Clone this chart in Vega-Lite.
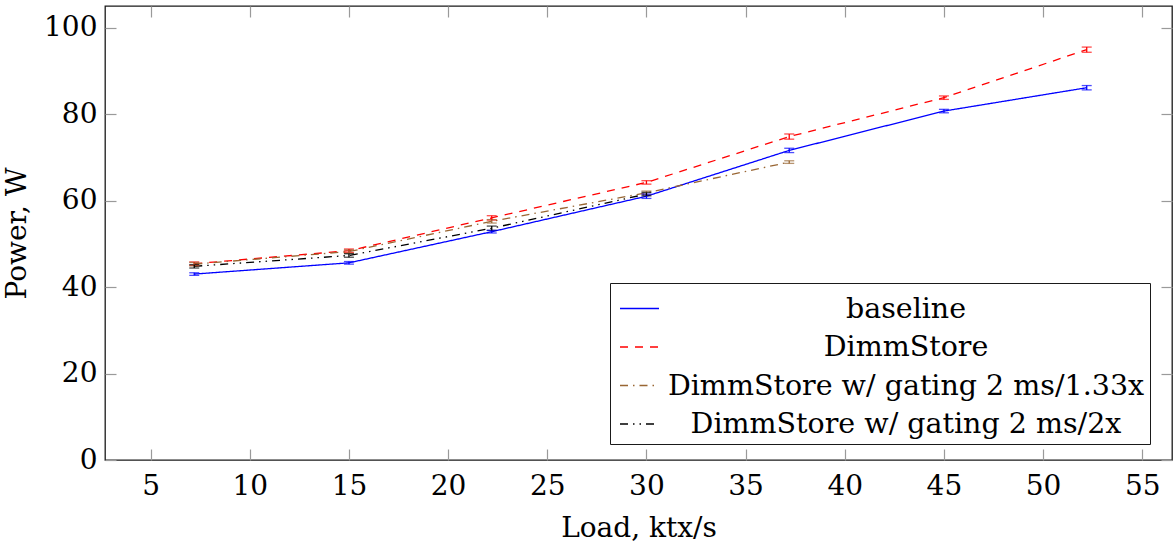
{
  "$schema": "https://vega.github.io/schema/vega-lite/v6.json",
  "width": 1067,
  "height": 454,
  "padding": {"left": 3, "top": 5, "right": 0, "bottom": 0},
  "config": {
    "view": {"stroke": "#1a1a1a", "strokeWidth": 1.3},
    "font": "DejaVu Serif",
    "axis": {
      "labelFont": "DejaVu Serif",
      "titleFont": "DejaVu Serif",
      "labelFontSize": 28,
      "titleFontSize": 28,
      "titleFontWeight": "normal",
      "labelColor": "black",
      "titleColor": "black",
      "tickColor": "#9a9a9a",
      "tickSize": -11,
      "tickWidth": 1.2,
      "domain": false,
      "grid": false
    }
  },
  "data": {
    "values": [
      {"series": "baseline", "load": 7.2, "power": 43.0, "lo": 42.7, "hi": 43.3},
      {"series": "baseline", "load": 15.0, "power": 45.6, "lo": 45.3, "hi": 45.9},
      {"series": "baseline", "load": 22.2, "power": 52.8, "lo": 52.5, "hi": 53.1},
      {"series": "baseline", "load": 30.0, "power": 61.0, "lo": 60.5, "hi": 61.5},
      {"series": "baseline", "load": 37.2, "power": 71.6, "lo": 71.1, "hi": 72.1},
      {"series": "baseline", "load": 45.0, "power": 80.7, "lo": 80.3, "hi": 81.1},
      {"series": "baseline", "load": 52.2, "power": 86.1, "lo": 85.6, "hi": 86.6},
      {"series": "DimmStore", "load": 7.2, "power": 45.4, "lo": 45.0, "hi": 45.8},
      {"series": "DimmStore", "load": 15.0, "power": 48.4, "lo": 48.0, "hi": 48.8},
      {"series": "DimmStore", "load": 22.2, "power": 56.0, "lo": 55.5, "hi": 56.5},
      {"series": "DimmStore", "load": 30.0, "power": 64.2, "lo": 63.8, "hi": 64.6},
      {"series": "DimmStore", "load": 37.2, "power": 74.8, "lo": 74.2, "hi": 75.4},
      {"series": "DimmStore", "load": 45.0, "power": 83.8, "lo": 83.4, "hi": 84.2},
      {"series": "DimmStore", "load": 52.2, "power": 94.9, "lo": 94.3, "hi": 95.5},
      {"series": "DimmStore w/ gating 2 ms/1.33x", "load": 7.2, "power": 45.3, "lo": 44.9, "hi": 45.7},
      {"series": "DimmStore w/ gating 2 ms/1.33x", "load": 15.0, "power": 48.2, "lo": 47.8, "hi": 48.6},
      {"series": "DimmStore w/ gating 2 ms/1.33x", "load": 22.2, "power": 55.2, "lo": 54.8, "hi": 55.6},
      {"series": "DimmStore w/ gating 2 ms/1.33x", "load": 30.0, "power": 61.8, "lo": 61.4, "hi": 62.2},
      {"series": "DimmStore w/ gating 2 ms/1.33x", "load": 37.2, "power": 68.9, "lo": 68.6, "hi": 69.2},
      {"series": "DimmStore w/ gating 2 ms/2x", "load": 7.2, "power": 44.8, "lo": 44.4, "hi": 45.2},
      {"series": "DimmStore w/ gating 2 ms/2x", "load": 15.0, "power": 47.3, "lo": 46.9, "hi": 47.7},
      {"series": "DimmStore w/ gating 2 ms/2x", "load": 22.2, "power": 53.6, "lo": 53.1, "hi": 54.1},
      {"series": "DimmStore w/ gating 2 ms/2x", "load": 30.0, "power": 61.5, "lo": 61.1, "hi": 61.9}
    ]
  },
  "layer": [
    {
      "mark": {"type": "line", "strokeWidth": 1.3},
      "encoding": {
        "x": {"field": "load", "type": "quantitative", "scale": {"domain": [2.7, 56.5], "nice": false, "zero": false},
              "axis": {"title": "Load, ktx/s", "values": [5, 10, 15, 20, 25, 30, 35, 40, 45, 50, 55], "orient": "bottom", "labelPadding": 23, "titlePadding": 14}},
        "y": {"field": "power", "type": "quantitative", "scale": {"domain": [0, 105], "nice": false},
              "axis": {"title": "Power, W", "values": [0, 20, 40, 60, 80, 100], "orient": "left", "labelPadding": 19, "titlePadding": 12}},
        "color": {
          "field": "series", "type": "nominal",
          "scale": {
            "domain": ["baseline", "DimmStore", "DimmStore w/ gating 2 ms/1.33x", "DimmStore w/ gating 2 ms/2x"],
            "range": ["#0000ff", "#ff0000", "#996633", "#000000"]
          },
          "legend": {
            "title": null, "orient": "none", "legendX": 505, "legendY": 277,
            "symbolType": "stroke", "symbolSize": 1521, "symbolStrokeWidth": 1.3, "symbolOffset": 4,
            "labelFont": "DejaVu Serif", "labelFontSize": 28.5, "labelColor": "black",
            "labelAlign": "center", "labelOffset": 246, "labelLimit": 0,
            "strokeColor": "#1a1a1a", "fillColor": "white", "padding": 5, "rowPadding": 3.5
          }
        },
        "strokeDash": {
          "field": "series", "type": "nominal",
          "scale": {
            "domain": ["baseline", "DimmStore", "DimmStore w/ gating 2 ms/1.33x", "DimmStore w/ gating 2 ms/2x"],
            "range": [[1, 0], [8, 7], [8, 5, 1.5, 5], [8, 5, 1.5, 5, 1.5, 5]]
          },
          "legend": {
            "title": null, "orient": "none", "legendX": 505, "legendY": 277,
            "symbolType": "stroke", "symbolSize": 1521, "symbolStrokeWidth": 1.3, "symbolOffset": 4,
            "labelFont": "DejaVu Serif", "labelFontSize": 28.5, "labelColor": "black",
            "labelAlign": "center", "labelOffset": 246, "labelLimit": 0,
            "strokeColor": "#1a1a1a", "fillColor": "white", "padding": 5, "rowPadding": 3.5
          }
        }
      }
    },
    {
      "mark": {"type": "errorbar", "ticks": {"size": 10}, "thickness": 1.3},
      "encoding": {
        "x": {"field": "load", "type": "quantitative", "axis": null},
        "y": {"field": "lo", "type": "quantitative", "axis": null},
        "y2": {"field": "hi"},
        "color": {"field": "series", "type": "nominal", "legend": null}
      }
    },
    {
      "mark": {"type": "line", "opacity": 0},
      "encoding": {
        "x": {"field": "load", "type": "quantitative",
              "axis": {"title": null, "labels": false, "values": [5, 10, 15, 20, 25, 30, 35, 40, 45, 50, 55], "orient": "top"}},
        "y": {"field": "power", "type": "quantitative",
              "axis": {"title": null, "labels": false, "values": [0, 20, 40, 60, 80, 100], "orient": "right"}},
        "detail": {"field": "series"}
      }
    }
  ],
  "resolve": {"axis": {"x": "independent", "y": "independent"}}
}
